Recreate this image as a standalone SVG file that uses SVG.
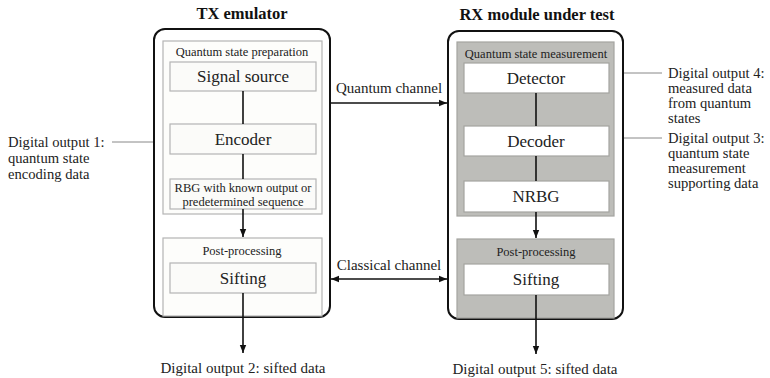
<svg xmlns="http://www.w3.org/2000/svg" width="770" height="378" viewBox="0 0 770 378">
<defs>
<marker id="ah" viewBox="0 0 10 10" refX="10" refY="5" markerWidth="8" markerHeight="8" markerUnits="userSpaceOnUse" orient="auto-start-reverse"><path d="M0,1 L10,5 L0,9 z" fill="#111"/></marker>
<style>
text{font-family:"Liberation Serif","Times New Roman",serif;fill:#222;text-anchor:middle}
.title{font-size:16.5px;font-weight:bold;fill:#111}
.lbl{font-size:17px}
.sm{font-size:12.5px}
.side{font-size:14.6px;text-anchor:start}
.note{font-size:15px}
.outer{fill:#fff;stroke:#111;stroke-width:2}
.txgrp{fill:#fdfdfb;stroke:#b4b4b4;stroke-width:1.2}
.txbox{fill:#fbfbf9;stroke:#b4b4b4;stroke-width:1.2}
.rxgrp{fill:#bdbdb9;stroke:#a4a4a0;stroke-width:1.2}
.rxbox{fill:#fff;stroke:#a4a4a0;stroke-width:1.2}
.c{stroke:#111;stroke-width:1.6;fill:none}
.lead{stroke:#888;stroke-width:1;fill:none}
</style>
</defs>
<g id="tx">
<text class="title" x="242" y="19">TX emulator</text>
<rect class="outer" x="154" y="29" width="176" height="288" rx="11"/>
<g id="tx-prep"><rect class="txgrp" x="163" y="41" width="159" height="173"/><text class="sm" x="242" y="56">Quantum state preparation</text></g>
<g id="tx-source"><rect class="txbox" x="170" y="62" width="146" height="29"/><text class="lbl" x="243" y="82">Signal source</text></g>
<g id="tx-encoder"><rect class="txbox" x="170" y="124" width="146" height="30"/><text class="lbl" x="243" y="145">Encoder</text></g>
<g id="tx-rbg"><rect class="txbox" x="170" y="179" width="146" height="30"/><text class="sm" x="243" y="192">RBG with known output or</text><text class="sm" x="243" y="206">predetermined sequence</text></g>
<g id="tx-post"><rect class="txgrp" x="163" y="238" width="159" height="78"/><text class="sm" x="242" y="255">Post-processing</text></g>
<g id="tx-sift"><rect class="txbox" x="170" y="263" width="146" height="30"/><text class="lbl" x="243" y="284">Sifting</text></g>
</g>
<g id="rx">
<text class="title" x="537" y="20">RX module under test</text>
<rect class="outer" x="448" y="31" width="175" height="288" rx="11"/>
<g id="rx-meas"><rect class="rxgrp" x="457" y="42" width="157" height="174"/><text class="sm" x="536" y="58">Quantum state measurement</text></g>
<g id="rx-det"><rect class="rxbox" x="464" y="63" width="145" height="30"/><text class="lbl" x="536" y="84">Detector</text></g>
<g id="rx-dec"><rect class="rxbox" x="464" y="126" width="145" height="30"/><text class="lbl" x="536" y="147">Decoder</text></g>
<g id="rx-nrbg"><rect class="rxbox" x="464" y="181" width="145" height="31"/><text class="lbl" x="536" y="202">NRBG</text></g>
<g id="rx-post"><rect class="rxgrp" x="457" y="239" width="157" height="79"/><text class="sm" x="536" y="256">Post-processing</text></g>
<g id="rx-sift"><rect class="rxbox" x="464" y="264" width="145" height="31"/><text class="lbl" x="536" y="285">Sifting</text></g>
</g>
<g id="connectors">
<line class="c" x1="243" y1="91" x2="243" y2="124"/>
<line class="c" x1="243" y1="154" x2="243" y2="179"/>
<line class="c" x1="243" y1="209" x2="243" y2="237" marker-end="url(#ah)"/>
<line class="c" x1="243" y1="293" x2="243" y2="353" marker-end="url(#ah)"/>
<line class="c" x1="536" y1="93" x2="536" y2="126"/>
<line class="c" x1="536" y1="156" x2="536" y2="181"/>
<line class="c" x1="536" y1="212" x2="536" y2="238" marker-end="url(#ah)"/>
<line class="c" x1="536" y1="295" x2="536" y2="354" marker-end="url(#ah)"/>
<line class="c" x1="330" y1="103" x2="447" y2="103" marker-end="url(#ah)"/>
<line class="c" x1="331" y1="279" x2="447" y2="279" marker-start="url(#ah)" marker-end="url(#ah)"/>
<line class="lead" x1="112" y1="142" x2="153" y2="142"/>
<line class="lead" x1="624" y1="73" x2="662" y2="73"/>
<line class="lead" x1="624" y1="138" x2="662" y2="138"/>
</g>
<g id="labels">
<text class="note" x="389" y="93">Quantum channel</text>
<text class="note" x="389" y="270">Classical channel</text>
<text class="note" x="243" y="373">Digital output 2: sifted data</text>
<text class="note" x="535" y="374">Digital output 5: sifted data</text>
<text class="side" x="8" y="147">Digital output 1:</text>
<text class="side" x="8" y="163">quantum state</text>
<text class="side" x="8" y="179">encoding data</text>
<text class="side" x="668" y="78">Digital output 4:</text>
<text class="side" x="668" y="93">measured data</text>
<text class="side" x="668" y="108">from quantum</text>
<text class="side" x="668" y="123">states</text>
<text class="side" x="668" y="143">Digital output 3:</text>
<text class="side" x="668" y="158">quantum state</text>
<text class="side" x="668" y="173">measurement</text>
<text class="side" x="668" y="188">supporting data</text>
</g>
</svg>
